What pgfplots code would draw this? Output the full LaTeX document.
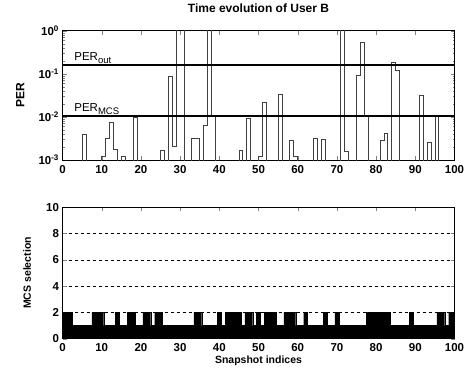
\documentclass[border=0pt]{standalone}
\usepackage{pgfplots}
\pgfplotsset{compat=1.18}
\usepackage{fontspec}
\setmainfont{Liberation Sans}
\newcommand{\sub}[1]{\raisebox{-0.4ex}{\fontsize{9.5}{11}\selectfont #1}}
\begin{document}
\begin{tikzpicture}
\useasboundingbox (0pt,0pt) rectangle (470pt,372pt);
\pgfplotsset{every axis/.append style={
  scale only axis, width=392pt, anchor=south west,
  /pgf/number format/assume math mode=true,
  tick label style={font=\bfseries\fontsize{11.5}{13}\selectfont},
  xticklabel style={yshift=-1.5pt},
  label style={font=\bfseries\fontsize{10.5}{12}\selectfont},
  axis line style={line width=0.7pt},
  major tick length=4pt, minor tick length=2pt,
  xmin=0, xmax=100, xtick={0,10,...,100},
}}
\begin{axis}[at={(62.5pt,212pt)}, height=129.3pt, ymode=log, ymin=1e-3, ymax=1,
  ytick={1e-3,1e-2,1e-1,1},
  yticklabels={10\textsuperscript{-3},10\textsuperscript{-2},10\textsuperscript{-1},10\textsuperscript{0}},
  title={Time evolution of User B},
  title style={font=\bfseries\fontsize{12}{14}\selectfont, at={(0.5,1)}, anchor=base, yshift=12pt},
  ylabel={PER}, ylabel style={font=\bfseries\fontsize{12}{14}\selectfont, at={(axis description cs:-0.108,0.5)}, anchor=center}]
\addplot[const plot, black!75, line width=0.8pt] coordinates {
(0,1e-5) (5,0.004) (6,1e-5) (10,0.0012) (11,0.0032) (12,0.0075) (13,0.0018) (14,1e-5)
(15,0.0012) (16,1e-5) (18,0.0098) (19,1e-5) (25,0.0017) (26,1e-5) (27,0.085) (28,0.0021)
(29,2) (31,1e-5) (33,0.0032) (35,1e-5) (36,0.0065) (37,2) (38,0.0102) (39,1e-5)
(45,0.0017) (46,1e-5) (47,0.0093) (48,1e-5) (50,0.0012) (51,0.022) (52,1e-5)
(55,0.034) (56,1e-5) (58,0.0029) (59,0.0012) (60,1e-5) (64,0.0032) (65,1e-5)
(66,0.003) (67,1e-5) (71,2) (72,0.0016) (73,1e-5) (75,0.094) (76,0.53) (77,0.011) (78,1e-5)
(81,0.0029) (82,0.0042) (83,1e-5) (84,0.185) (85,0.12) (86,1e-5) (91,0.032) (92,1e-5)
(93,0.0025) (94,1e-5) (95,0.0102) (96,1e-5) (100,1e-5)};
\addplot[black, line width=1.2pt] coordinates {(0,0.16) (100,0.16)};
\addplot[black, line width=1.2pt] coordinates {(0,0.0105) (100,0.0105)};
\node[anchor=south west, inner sep=1.5pt, font=\fontsize{11.5}{13}\selectfont] at (axis cs:2.6,0.16) {PER\sub{out}};
\node[anchor=south west, inner sep=1.5pt, font=\fontsize{11.5}{13}\selectfont] at (axis cs:2.6,0.0105) {PER\sub{MCS}};
\end{axis}
\begin{axis}[at={(62.5pt,33.3pt)}, height=131.4pt, ymin=0, ymax=10, ytick={0,2,...,10},
  ymajorgrids, grid style={dashed, black, line width=0.5pt},
  xlabel={Snapshot indices}, xlabel style={at={(axis description cs:0.5,-0.17)}, anchor=center},
  ylabel={MCS selection}, ylabel style={at={(axis description cs:-0.09,0.5)}, anchor=center}]
\addplot[ybar, bar width=1, bar shift=0, fill=black, draw=black!35!black, line width=0.15pt] coordinates {
(0,2) (1,2) (2,2) (3,1) (4,1) (5,1) (6,1) (7,1) (8,2) (9,2)
(10,2) (11,1) (12,1) (13,1) (14,2) (15,1) (16,1) (17,2) (18,2) (19,1)
(20,1) (21,2) (22,2) (23,1) (24,2) (25,2) (26,1) (27,1) (28,1) (29,1)
(30,1) (31,1) (32,1) (33,1) (34,2) (35,2) (36,1) (37,1) (38,1) (39,1)
(40,2) (41,1) (42,2) (43,2) (44,2) (45,2) (46,1) (47,2) (48,2) (49,1)
(50,2) (51,1) (52,2) (53,2) (54,2) (55,1) (56,1) (57,2) (58,2) (59,2)
(60,1) (61,1) (62,2) (63,1) (64,1) (65,1) (66,1) (67,2) (68,1) (69,1)
(70,2) (71,1) (72,1) (73,1) (74,1) (75,1) (76,1) (77,1) (78,2) (79,2)
(80,2) (81,2) (82,2) (83,2) (84,1) (85,1) (86,1) (87,1) (88,1) (89,2)
(90,1) (91,1) (92,1) (93,1) (94,1) (95,1) (96,2) (97,2) (98,1) (99,2)
(100,2)};
\end{axis}
\end{tikzpicture}
\end{document}
